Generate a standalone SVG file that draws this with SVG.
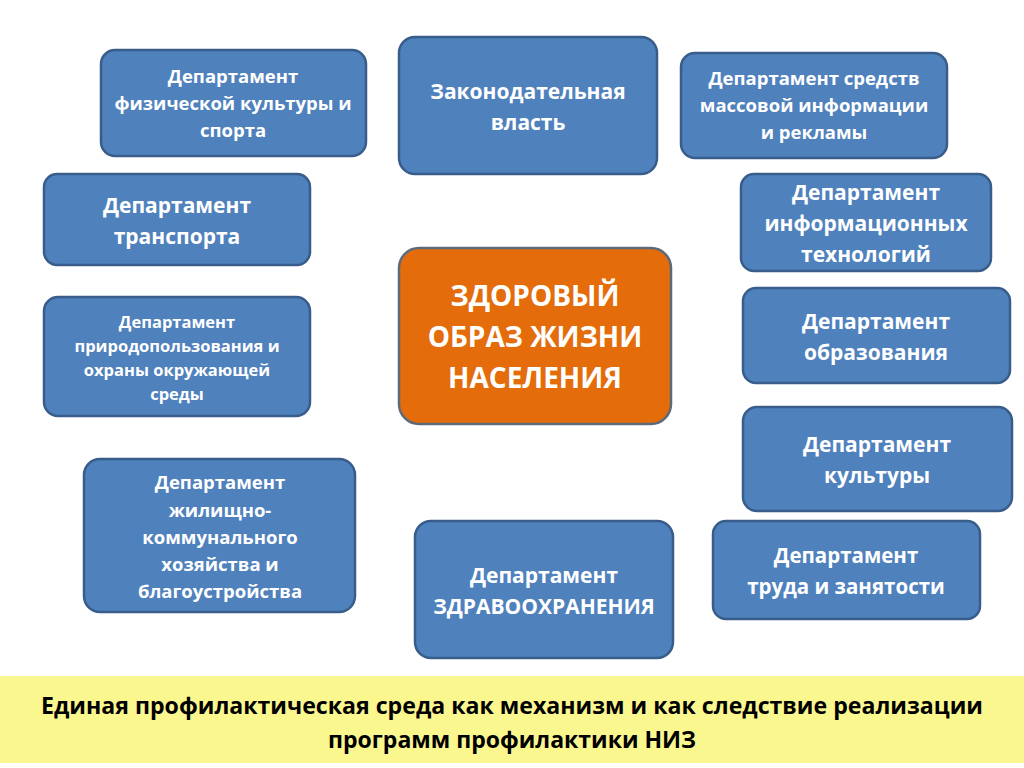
<svg xmlns="http://www.w3.org/2000/svg" width="1024" height="768" viewBox="0 0 1024 768">
<style>
.b{fill:#4F81BD;stroke:#385D8A;stroke-width:2.5}
.c{fill:#E46C0A;stroke:#5B6B7C;stroke-width:2.5}
text{font-family:"Open Sans","Noto Sans","DejaVu Sans",sans-serif;font-weight:bold;fill:#FFFFFF;text-anchor:middle}
.s15{font-size:16.5px}.s17{font-size:18.5px}.s19{font-size:21px}.s20{font-size:20.5px}.s28{font-size:28px}
.f{fill:#000000;font-size:23px}
</style>
<rect width="1024" height="768" fill="#FFFFFF"/>
<g id="n1"><rect class="b" x="101" y="50" width="265" height="106" rx="14"/>
<text class="s17" x="233" y="83">Департамент</text><text class="s17" x="233" y="110">физической культуры и</text><text class="s17" x="233" y="137">спорта</text></g>
<g id="n2"><rect class="b" x="399" y="37" width="258" height="137" rx="16"/>
<text class="s19" x="528" y="99">Законодательная</text><text class="s19" x="528" y="130">власть</text></g>
<g id="n3"><rect class="b" x="681" y="53" width="266" height="105" rx="14"/>
<text class="s17" x="814" y="85">Департамент средств</text><text class="s17" x="814" y="112">массовой информации</text><text class="s17" x="814" y="139">и рекламы</text></g>
<g id="n4"><rect class="b" x="44" y="174" width="266" height="91" rx="13"/>
<text class="s19" x="177" y="213">Департамент</text><text class="s19" x="177" y="244">транспорта</text></g>
<g id="n5"><rect class="b" x="741" y="174" width="250" height="97" rx="13"/>
<text class="s19" x="866" y="200">Департамент</text><text class="s19" x="866" y="231">информационных</text><text class="s19" x="866" y="262">технологий</text></g>
<g id="n6"><rect class="c" x="399" y="248" width="272" height="176" rx="20"/>
<text class="s28" x="535" y="306">ЗДОРОВЫЙ</text><text class="s28" x="535" y="347">ОБРАЗ ЖИЗНИ</text><text class="s28" x="535" y="388">НАСЕЛЕНИЯ</text></g>
<g id="n7"><rect class="b" x="44" y="297" width="266" height="119" rx="14"/>
<text class="s15" x="177" y="328">Департамент</text><text class="s15" x="177" y="352">природопользования и</text><text class="s15" x="177" y="376">охраны окружающей</text><text class="s15" x="177" y="400">среды</text></g>
<g id="n8"><rect class="b" x="743" y="288" width="267" height="95" rx="13"/>
<text class="s19" x="876" y="329">Департамент</text><text class="s19" x="876" y="360">образования</text></g>
<g id="n9"><rect class="b" x="743" y="407" width="269" height="104" rx="14"/>
<text class="s19" x="877" y="452">Департамент</text><text class="s19" x="877" y="483">культуры</text></g>
<g id="n10"><rect class="b" x="84" y="459" width="271" height="153" rx="16"/>
<text class="s17" x="220" y="489">Департамент</text><text class="s17" x="220" y="517">жилищно-</text><text class="s17" x="220" y="544">коммунального</text><text class="s17" x="220" y="571">хозяйства и</text><text class="s17" x="220" y="598">благоустройства</text></g>
<g id="n11"><rect class="b" x="415" y="521" width="258" height="137" rx="16"/>
<text class="s19" x="544" y="583">Департамент</text><text class="s19" x="544" y="614">ЗДРАВООХРАНЕНИЯ</text></g>
<g id="n12"><rect class="b" x="713" y="521" width="267" height="98" rx="13"/>
<text class="s20" x="846" y="563">Департамент</text><text class="s20" x="846" y="594">труда и занятости</text></g>
<g id="connectors"></g>
<g id="banner"><rect x="0" y="676" width="1024" height="87" fill="#FBF78F"/>
<text class="f" x="512" y="714" textLength="942" lengthAdjust="spacingAndGlyphs">Единая профилактическая среда как механизм и как следствие реализации</text>
<text class="f" x="512" y="748" textLength="368" lengthAdjust="spacingAndGlyphs">программ профилактики НИЗ</text></g>
</svg>
